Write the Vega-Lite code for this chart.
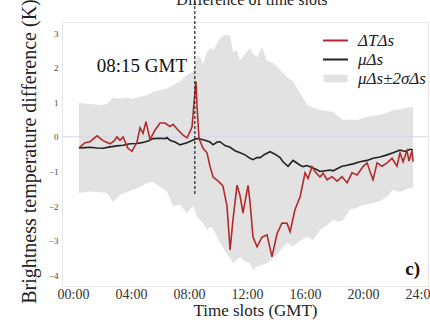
{
  "$schema": "https://vega.github.io/schema/vega-lite/v6.json",
  "autosize": {"type": "none"},
  "padding": {"left": 62, "top": 22, "right": 2, "bottom": 38},
  "width": 366,
  "height": 264,
  "background": "white",
  "config": {
    "font": "Liberation Serif",
    "view": {"stroke": "#e6e6e6", "strokeWidth": 1}
  },
  "datasets": {
    "one": [{}],
    "band": [
      {"h":0.41,"hi":0.98,"lo":-1.62},{"h":1.17,"hi":0.95,"lo":-1.58},{"h":1.86,"hi":0.92,"lo":-1.6},{"h":2.34,"hi":0.95,"lo":-1.62},
      {"h":2.76,"hi":1.13,"lo":-1.88},{"h":3.24,"hi":1.1,"lo":-1.68},{"h":3.72,"hi":1.13,"lo":-1.6},{"h":4.14,"hi":1.1,"lo":-1.53},
      {"h":4.62,"hi":1.16,"lo":-1.45},{"h":5.1,"hi":1.2,"lo":-1.33},{"h":5.52,"hi":1.3,"lo":-1.3},{"h":6.0,"hi":1.35,"lo":-1.44},
      {"h":6.48,"hi":1.4,"lo":-1.58},{"h":6.9,"hi":1.5,"lo":-2.0},{"h":7.38,"hi":1.6,"lo":-1.96},{"h":7.86,"hi":1.8,"lo":-2.2},
      {"h":8.28,"hi":1.88,"lo":-2.0},{"h":8.55,"hi":2.35,"lo":-2.3},{"h":8.76,"hi":2.3,"lo":-2.4},{"h":8.97,"hi":2.1,"lo":-2.5},
      {"h":9.24,"hi":2.45,"lo":-2.7},{"h":9.45,"hi":2.57,"lo":-2.6},{"h":9.66,"hi":2.5,"lo":-2.65},{"h":9.93,"hi":2.7,"lo":-2.9},
      {"h":10.14,"hi":2.85,"lo":-3.06},{"h":10.48,"hi":2.95,"lo":-3.3},{"h":10.83,"hi":2.92,"lo":-3.5},{"h":11.03,"hi":2.45,"lo":-3.65},
      {"h":11.31,"hi":2.5,"lo":-3.55},{"h":11.52,"hi":2.2,"lo":-3.47},{"h":11.86,"hi":2.4,"lo":-3.6},{"h":12.21,"hi":2.57,"lo":-3.65},
      {"h":12.41,"hi":2.4,"lo":-3.85},{"h":12.69,"hi":2.3,"lo":-3.75},{"h":13.03,"hi":2.6,"lo":-3.7},{"h":13.38,"hi":2.2,"lo":-3.65},
      {"h":13.79,"hi":2.14,"lo":-3.5},{"h":14.14,"hi":2.0,"lo":-3.36},{"h":14.48,"hi":1.85,"lo":-3.2},{"h":14.76,"hi":1.73,"lo":-3.07},
      {"h":15.17,"hi":1.6,"lo":-3.17},{"h":15.66,"hi":1.27,"lo":-3.0},{"h":16.14,"hi":0.92,"lo":-2.89},{"h":16.55,"hi":0.85,"lo":-2.97},
      {"h":17.03,"hi":0.78,"lo":-2.69},{"h":17.52,"hi":0.75,"lo":-2.55},{"h":17.93,"hi":0.72,"lo":-2.4},{"h":18.28,"hi":0.6,"lo":-2.45},
      {"h":18.62,"hi":0.49,"lo":-2.4},{"h":19.1,"hi":0.5,"lo":-2.1},{"h":19.59,"hi":0.49,"lo":-2.05},{"h":19.79,"hi":0.52,"lo":-2.0},
      {"h":20.28,"hi":0.58,"lo":-1.95},{"h":20.69,"hi":0.6,"lo":-1.92},{"h":21.17,"hi":0.64,"lo":-1.85},{"h":21.66,"hi":0.7,"lo":-1.73},
      {"h":22.07,"hi":0.78,"lo":-1.53},{"h":22.55,"hi":0.8,"lo":-1.6},{"h":23.03,"hi":0.84,"lo":-1.5},{"h":23.45,"hi":0.87,"lo":-1.47}
    ],
    "mu": [
      {"h":0.41,"v":-0.32},{"h":0.83,"v":-0.31},{"h":1.17,"v":-0.3},{"h":1.66,"v":-0.32},{"h":2.07,"v":-0.33},{"h":2.55,"v":-0.29},
      {"h":3.03,"v":-0.26},{"h":3.45,"v":-0.24},{"h":3.93,"v":-0.2},{"h":4.41,"v":-0.19},{"h":4.83,"v":-0.16},{"h":5.17,"v":-0.12},
      {"h":5.52,"v":-0.05},{"h":6.0,"v":-0.04},{"h":6.34,"v":-0.05},{"h":6.48,"v":-0.02},{"h":6.69,"v":-0.1},{"h":7.03,"v":-0.15},
      {"h":7.38,"v":-0.23},{"h":7.86,"v":-0.17},{"h":8.28,"v":-0.09},{"h":8.55,"v":-0.05},{"h":8.76,"v":-0.06},{"h":9.1,"v":-0.1},
      {"h":9.45,"v":-0.15},{"h":9.66,"v":-0.23},{"h":9.93,"v":-0.15},{"h":10.14,"v":-0.14},{"h":10.48,"v":-0.25},{"h":10.83,"v":-0.3},
      {"h":11.17,"v":-0.4},{"h":11.52,"v":-0.46},{"h":11.86,"v":-0.52},{"h":12.21,"v":-0.62},{"h":12.41,"v":-0.66},{"h":12.69,"v":-0.6},
      {"h":12.9,"v":-0.6},{"h":13.24,"v":-0.5},{"h":13.59,"v":-0.43},{"h":13.93,"v":-0.5},{"h":14.28,"v":-0.6},{"h":14.48,"v":-0.72},
      {"h":14.83,"v":-0.85},{"h":15.17,"v":-0.68},{"h":15.31,"v":-0.72},{"h":15.66,"v":-0.82},{"h":15.86,"v":-0.86},{"h":16.14,"v":-0.83},
      {"h":16.55,"v":-0.9},{"h":16.83,"v":-0.95},{"h":17.03,"v":-1.0},{"h":17.38,"v":-0.98},{"h":17.72,"v":-0.96},{"h":17.93,"v":-0.98},
      {"h":18.21,"v":-0.92},{"h":18.55,"v":-0.85},{"h":18.9,"v":-0.82},{"h":19.31,"v":-0.78},{"h":19.79,"v":-0.72},{"h":20.28,"v":-0.68},
      {"h":20.69,"v":-0.62},{"h":21.17,"v":-0.58},{"h":21.66,"v":-0.52},{"h":22.07,"v":-0.46},{"h":22.55,"v":-0.38},{"h":22.9,"v":-0.42},
      {"h":23.24,"v":-0.36},{"h":23.45,"v":-0.38}
    ],
    "dt": [
      {"h":0.41,"v":-0.32},{"h":0.83,"v":-0.17},{"h":1.17,"v":-0.14},{"h":1.66,"v":0.03},{"h":2.07,"v":-0.11},{"h":2.55,"v":-0.2},
      {"h":2.83,"v":-0.12},{"h":3.03,"v":0.0},{"h":3.24,"v":-0.1},{"h":3.45,"v":0.0},{"h":3.79,"v":-0.33},{"h":4.07,"v":-0.42},
      {"h":4.41,"v":-0.15},{"h":4.62,"v":0.26},{"h":4.83,"v":0.1},{"h":5.03,"v":0.44},{"h":5.31,"v":-0.08},{"h":5.66,"v":0.2},
      {"h":6.0,"v":0.4},{"h":6.34,"v":0.4},{"h":6.69,"v":0.3},{"h":6.9,"v":0.36},{"h":7.24,"v":0.2},{"h":7.59,"v":0.05},
      {"h":7.86,"v":-0.03},{"h":8.07,"v":0.15},{"h":8.21,"v":0.3},{"h":8.34,"v":0.98},{"h":8.48,"v":1.6},{"h":8.55,"v":0.9},
      {"h":8.69,"v":-0.05},{"h":8.97,"v":-0.33},{"h":9.24,"v":-0.46},{"h":9.45,"v":-0.86},{"h":9.66,"v":-1.16},{"h":9.93,"v":-1.25},
      {"h":10.14,"v":-1.33},{"h":10.34,"v":-1.42},{"h":10.62,"v":-2.0},{"h":10.83,"v":-3.27},{"h":11.03,"v":-2.4},{"h":11.31,"v":-1.4},
      {"h":11.52,"v":-1.7},{"h":11.72,"v":-2.2},{"h":12.07,"v":-1.4},{"h":12.21,"v":-1.9},{"h":12.41,"v":-2.89},{"h":12.69,"v":-3.18},
      {"h":13.03,"v":-2.9},{"h":13.38,"v":-2.83},{"h":13.72,"v":-3.47},{"h":14.07,"v":-2.8},{"h":14.41,"v":-2.49},{"h":14.76,"v":-2.5},
      {"h":14.97,"v":-2.74},{"h":15.31,"v":-2.1},{"h":15.66,"v":-1.73},{"h":16.0,"v":-1.04},{"h":16.21,"v":-1.2},{"h":16.48,"v":-0.86},
      {"h":16.69,"v":-1.0},{"h":17.03,"v":-1.16},{"h":17.24,"v":-1.05},{"h":17.52,"v":-1.24},{"h":17.86,"v":-1.15},{"h":18.21,"v":-1.28},
      {"h":18.55,"v":-1.15},{"h":18.9,"v":-1.33},{"h":19.24,"v":-1.04},{"h":19.59,"v":-1.1},{"h":20.0,"v":-0.86},{"h":20.28,"v":-0.75},
      {"h":20.48,"v":-1.0},{"h":20.69,"v":-1.24},{"h":20.97,"v":-0.75},{"h":21.31,"v":-0.85},{"h":21.66,"v":-0.75},{"h":22.0,"v":-0.62},
      {"h":22.34,"v":-0.85},{"h":22.55,"v":-0.46},{"h":22.76,"v":-0.72},{"h":23.03,"v":-0.4},{"h":23.17,"v":-0.7},{"h":23.38,"v":-0.4},
      {"h":23.45,"v":-0.72}
    ]
  },
  "encoding": {
    "x": {
      "type": "quantitative",
      "scale": {"domain": [-0.76, 24.48], "nice": false, "zero": false},
      "axis": {
        "values": [0, 4, 8, 12, 16, 20, 24],
        "labelExpr": "(datum.value < 10 ? '0' : '') + datum.value + ':00'",
        "labelFontSize": 14, "labelColor": "#333333", "labelPadding": 1,
        "ticks": false, "domain": false, "grid": false,
        "title": "Time slots (GMT)", "titleFontSize": 17, "titleFontWeight": "normal", "titleColor": "#222222",
        "titlePadding": 1, "titleX": 193
      }
    },
    "y": {
      "type": "quantitative",
      "scale": {"domain": [-4.31, 3.32], "nice": false, "zero": false},
      "axis": {
        "values": [-4, -3, -2, -1, 0, 1, 2, 3],
        "labelFontSize": 9, "labelColor": "#444444", "labelPadding": 4,
        "ticks": false, "domain": false, "grid": false,
        "title": "Brightness temperature difference (K)", "titleFontSize": 20, "titleFontWeight": "normal", "titleColor": "#222222",
        "titleBaseline": "alphabetic", "titleX": -27, "titleY": 129
      }
    },
    "color": {
      "scale": {"domain": ["dt", "mu", "band"], "range": ["#b22a2e", "#222222", "#e2e2e2"]},
      "legend": {
        "title": null, "orient": "none", "legendX": 255, "legendY": 10,
        "labelFontSize": 17, "labelFont": "Liberation Serif", "labelFontStyle": "italic", "labelColor": "#222222",
        "symbolSize": 100, "rowPadding": 1, "labelOffset": 14, "symbolOffset": 10,
        "labelExpr": "datum.value === 'dt' ? 'ΔTΔs' : datum.value === 'mu' ? 'μΔs' : 'μΔs±2σΔs'",
        "encode": {
          "symbols": {
            "update": {
              "shape": {"signal": "datum.value === 'band' ? 'M-2.2,-0.55H2.2V0.55H-2.2Z' : 'M-2.5,0H2.5'"},
              "fill": {"signal": "datum.value === 'band' ? '#e0e0e0' : 'transparent'"},
              "stroke": {"signal": "datum.value === 'dt' ? '#b22a2e' : datum.value === 'mu' ? '#222222' : 'transparent'"},
              "strokeWidth": {"value": 2},
              "opacity": {"value": 1},
              "fillOpacity": {"value": 1},
              "strokeOpacity": {"value": 1}
            }
          }
        }
      }
    }
  },
  "layer": [
    {
      "data": {"name": "band"},
      "mark": {"type": "area", "opacity": 1},
      "encoding": {
        "x": {"field": "h"},
        "y": {"field": "lo"},
        "y2": {"field": "hi"},
        "color": {"datum": "band"}
      }
    },
    {
      "data": {"name": "one"},
      "mark": {"type": "rule", "color": "#d8d6e6", "strokeWidth": 1},
      "encoding": {"y": {"datum": 0}, "x": null}
    },
    {
      "data": {"name": "mu"},
      "mark": {"type": "line", "strokeWidth": 1.6},
      "encoding": {"x": {"field": "h"}, "y": {"field": "v"}, "color": {"datum": "mu"}}
    },
    {
      "data": {"name": "dt"},
      "mark": {"type": "line", "strokeWidth": 1.6},
      "encoding": {"x": {"field": "h"}, "y": {"field": "v"}, "color": {"datum": "dt"}}
    },
    {
      "data": {"name": "one"},
      "mark": {"type": "rule", "color": "#222222", "strokeDash": [3, 2], "strokeWidth": 1.2},
      "encoding": {"x": {"datum": 8.4}, "y": {"datum": -1.65}, "y2": {"datum": 3.95}}
    },
    {
      "data": {"name": "one"},
      "mark": {"type": "text", "text": "Difference of time slots", "fontSize": 16, "align": "center", "baseline": "alphabetic", "color": "#222222", "font": "Liberation Serif"},
      "encoding": {"x": {"datum": 12.34}, "y": {"datum": 3.8}}
    },
    {
      "data": {"name": "one"},
      "mark": {"type": "text", "text": "08:15 GMT", "fontSize": 19, "align": "right", "baseline": "alphabetic", "color": "#111111", "font": "Liberation Serif"},
      "encoding": {"x": {"datum": 7.86}, "y": {"datum": 1.88}}
    },
    {
      "data": {"name": "one"},
      "mark": {"type": "text", "text": "c)", "fontSize": 19, "fontWeight": "bold", "align": "right", "baseline": "alphabetic", "color": "#111111", "font": "Liberation Serif"},
      "encoding": {"x": {"datum": 23.93}, "y": {"datum": -4.0}}
    }
  ]
}
